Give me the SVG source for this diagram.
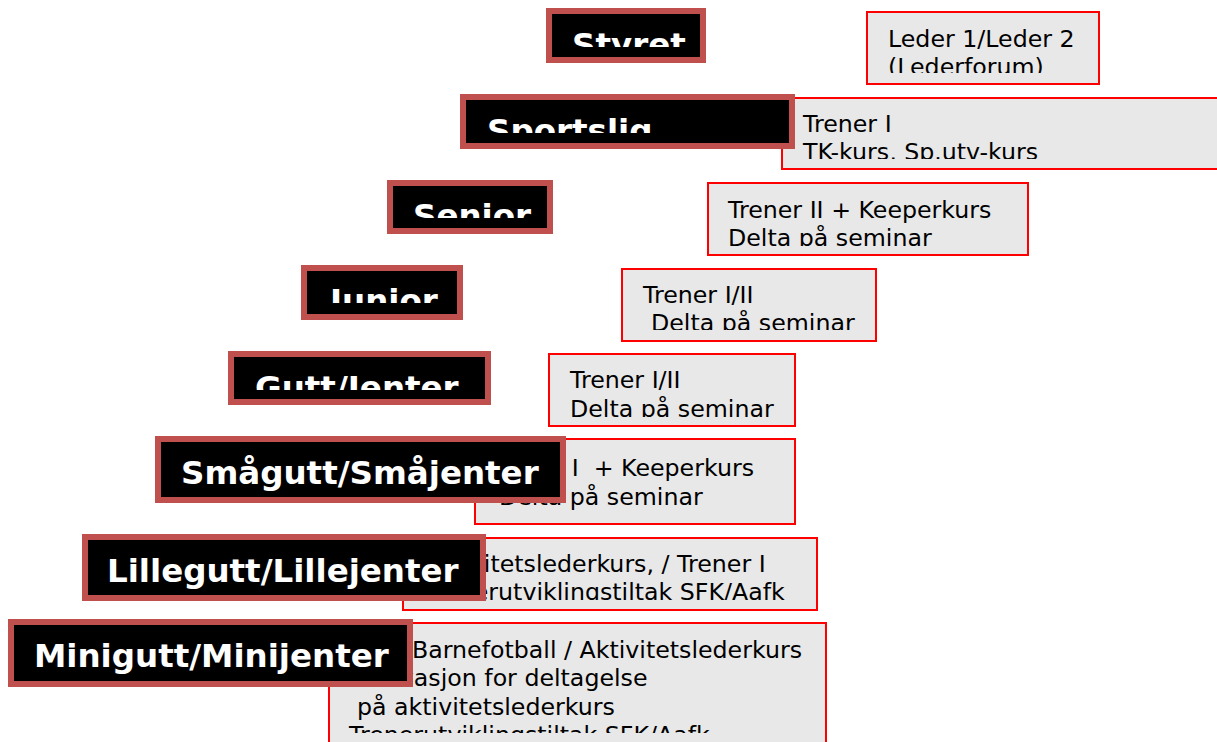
<svg xmlns="http://www.w3.org/2000/svg" width="1217" height="742" viewBox="0 0 1217 742">
<style>
.lab{fill:#000000;stroke:#C0504D;stroke-width:6}
.lt{font-family:"DejaVu Sans",Verdana,sans-serif;font-weight:bold;font-size:32.5px;fill:#FFFFFF}
.box{fill:#E8E8E8;stroke:#FF0000;stroke-width:2}
.bt{font-family:"DejaVu Sans",Verdana,sans-serif;font-size:23.7px;fill:#000000}
</style>
<defs>
<clipPath id="cStyret"><rect x="546" y="8" width="160" height="39"/></clipPath>
<clipPath id="cSportslig"><rect x="460" y="94" width="335" height="39"/></clipPath>
<clipPath id="cSenior"><rect x="387" y="180" width="166" height="38"/></clipPath>
<clipPath id="cJunior"><rect x="301" y="265" width="162" height="38"/></clipPath>
<clipPath id="cGutt"><rect x="228" y="351" width="263" height="39"/></clipPath>
<clipPath id="cLeder"><rect x="868" y="13" width="230" height="60"/></clipPath>
<clipPath id="cSportsligB"><rect x="783" y="99" width="434" height="60"/></clipPath>
<clipPath id="cSeniorB"><rect x="709" y="184" width="318" height="62"/></clipPath>
<clipPath id="cJuniorB"><rect x="623" y="270" width="252" height="60"/></clipPath>
<clipPath id="cGuttB"><rect x="550" y="355" width="244" height="62"/></clipPath>
<clipPath id="cLilleB"><rect x="404" y="539" width="412" height="61"/></clipPath>
<clipPath id="cMiniB"><rect x="330" y="624" width="495" height="109"/></clipPath>
</defs>

<g id="boks-leder">
<rect class="box" x="867" y="12" width="232" height="72"/>
<g clip-path="url(#cLeder)">
<text class="bt" x="888" y="47">Leder 1/Leder 2</text>
<text class="bt" x="888" y="75">(Lederforum)</text>
</g>
</g>

<g id="boks-sportslig">
<rect class="box" x="782" y="98" width="450" height="71"/>
<g clip-path="url(#cSportsligB)">
<text class="bt" x="803" y="132">Trener I</text>
<text class="bt" x="803" y="160">TK-kurs, Sp.utv-kurs</text>
</g>
</g>

<g id="boks-senior">
<rect class="box" x="708" y="183" width="320" height="72"/>
<g clip-path="url(#cSeniorB)">
<text class="bt" x="728" y="218">Trener II + Keeperkurs</text>
<text class="bt" x="728" y="246">Delta på seminar</text>
</g>
</g>

<g id="boks-junior">
<rect class="box" x="622" y="269" width="254" height="72"/>
<g clip-path="url(#cJuniorB)">
<text class="bt" x="643" y="303">Trener I/II</text>
<text class="bt" x="651" y="331">Delta på seminar</text>
</g>
</g>

<g id="boks-gutt">
<rect class="box" x="549" y="354" width="246" height="72"/>
<g clip-path="url(#cGuttB)">
<text class="bt" x="570" y="388">Trener I/II</text>
<text class="bt" x="570" y="417">Delta på seminar</text>
</g>
</g>

<g id="boks-smagutt">
<rect class="box" x="475" y="439" width="320" height="85"/>
<text class="bt" x="490" y="476" xml:space="preserve">Trener I  + Keeperkurs</text>
<text class="bt" x="499" y="505">Delta på seminar</text>
</g>

<g id="boks-lillegutt">
<rect class="box" x="403" y="538" width="414" height="72"/>
<g clip-path="url(#cLilleB)">
<text class="bt" x="424" y="572">Aktivitetslederkurs, / Trener I</text>
<text class="bt" x="424" y="600">Trenerutviklingstiltak SFK/Aafk</text>
</g>
</g>

<g id="boks-minigutt">
<rect class="box" x="329" y="623" width="497" height="130"/>
<g clip-path="url(#cMiniB)">
<text class="bt" x="412" y="658">Barnefotball / Aktivitetslederkurs</text>
<text class="bt" x="349" y="686">Motivasjon for deltagelse</text>
<text class="bt" x="357" y="715">på aktivitetslederkurs</text>
<text class="bt" x="349" y="743">Trenerutviklingstiltak SFK/Aafk</text>
</g>
</g>

<g id="connectors"></g>

<g id="styret">
<rect class="lab" x="549" y="11" width="154" height="49"/>
<text class="lt" x="572" y="56" clip-path="url(#cStyret)">Styret</text>
</g>

<g id="sportslig">
<rect class="lab" x="463" y="97" width="329" height="49"/>
<text class="lt" x="487" y="142" clip-path="url(#cSportslig)">Sportslig</text>
</g>

<g id="senior">
<rect class="lab" x="390" y="183" width="160" height="48"/>
<text class="lt" x="413" y="227" clip-path="url(#cSenior)">Senior</text>
</g>

<g id="junior">
<rect class="lab" x="304" y="268" width="156" height="49"/>
<text class="lt" x="330" y="312" clip-path="url(#cJunior)">Junior</text>
</g>

<g id="gutt-jenter">
<rect class="lab" x="231" y="354" width="257" height="48"/>
<text class="lt" x="255" y="399" clip-path="url(#cGutt)">Gutt/Jenter</text>
</g>

<g id="smagutt">
<rect class="lab" x="158" y="439" width="405" height="61"/>
<text class="lt" x="181" y="484">Smågutt/Småjenter</text>
</g>

<g id="lillegutt">
<rect class="lab" x="85" y="537" width="398" height="61"/>
<text class="lt" x="107" y="582">Lillegutt/Lillejenter</text>
</g>

<g id="minigutt">
<rect class="lab" x="11" y="622" width="399" height="62"/>
<text class="lt" x="34" y="667">Minigutt/Minijenter</text>
</g>
</svg>
